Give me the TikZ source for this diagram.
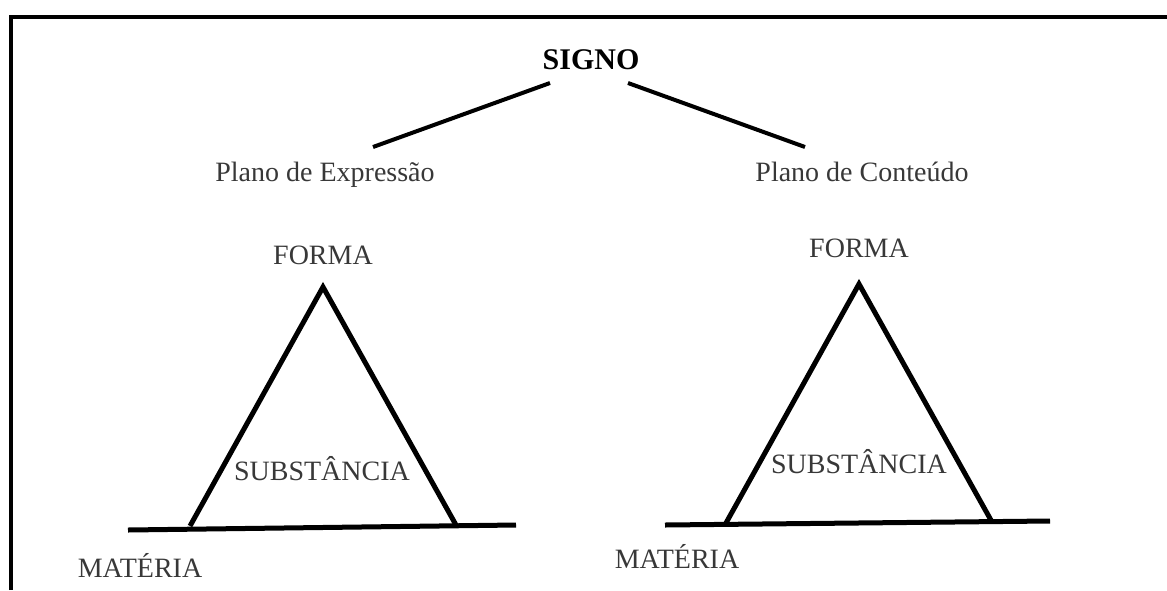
\documentclass[tikz,border=0pt]{standalone}
\usepackage{fontspec}
\setmainfont{Liberation Serif}
\definecolor{txt}{gray}{0.22}
\begin{document}
\begin{tikzpicture}[x=1pt,y=-1pt,
  lbl/.style={inner sep=0pt,anchor=base,text=txt,font=\fontsize{28}{30}\selectfont},
  ttl/.style={inner sep=0pt,anchor=base,text=black,font=\fontsize{30}{32}\selectfont\bfseries},
  thick line/.style={line width=5pt,line join=miter},
  branch/.style={line width=4pt}]
\useasboundingbox (0,0) rectangle (1167,590);
% frame (top and left only)
\draw[line width=4.5pt] (11,590) -- (11,17) -- (1167,17);
% title and branches
\node[ttl] (signo) at (591,69) {SIGNO};
\node[lbl] (pexp) at (325,181) {Plano de Expressão};
\node[lbl] (pcon) at (862,181) {Plano de Conteúdo};
\coordinate (s1) at (550,83); \coordinate (e1) at (373,147);
\coordinate (s2) at (628,83); \coordinate (e2) at (805,147);
\draw[branch] (s1) -- (e1);
\draw[branch] (s2) -- (e2);
% left triangle
\coordinate (lA) at (323,287);
\coordinate (lB) at (190,526);
\coordinate (lC) at (456,525);
\coordinate (lbl0) at (128,530);
\coordinate (lbr) at (516,525);
\draw[thick line] (lB) -- (lA) -- (lC);
\draw[thick line] (lbl0) -- (lbr);
\node[lbl] (lforma) at (323,264) {FORMA};
\node[lbl] (lsub) at (322,480) {SUBSTÂNCIA};
\node[lbl] (lmat) at (140,577) {MATÉRIA};
% right triangle
\coordinate (rA) at (859,284);
\coordinate (rB) at (726,523);
\coordinate (rC) at (992,522);
\coordinate (rbl0) at (665,525);
\coordinate (rbr) at (1050,521);
\draw[thick line] (rB) -- (rA) -- (rC);
\draw[thick line] (rbl0) -- (rbr);
\node[lbl] (rforma) at (859,257) {FORMA};
\node[lbl] (rsub) at (859,473) {SUBSTÂNCIA};
\node[lbl] (rmat) at (677,568) {MATÉRIA};
\end{tikzpicture}
\end{document}
